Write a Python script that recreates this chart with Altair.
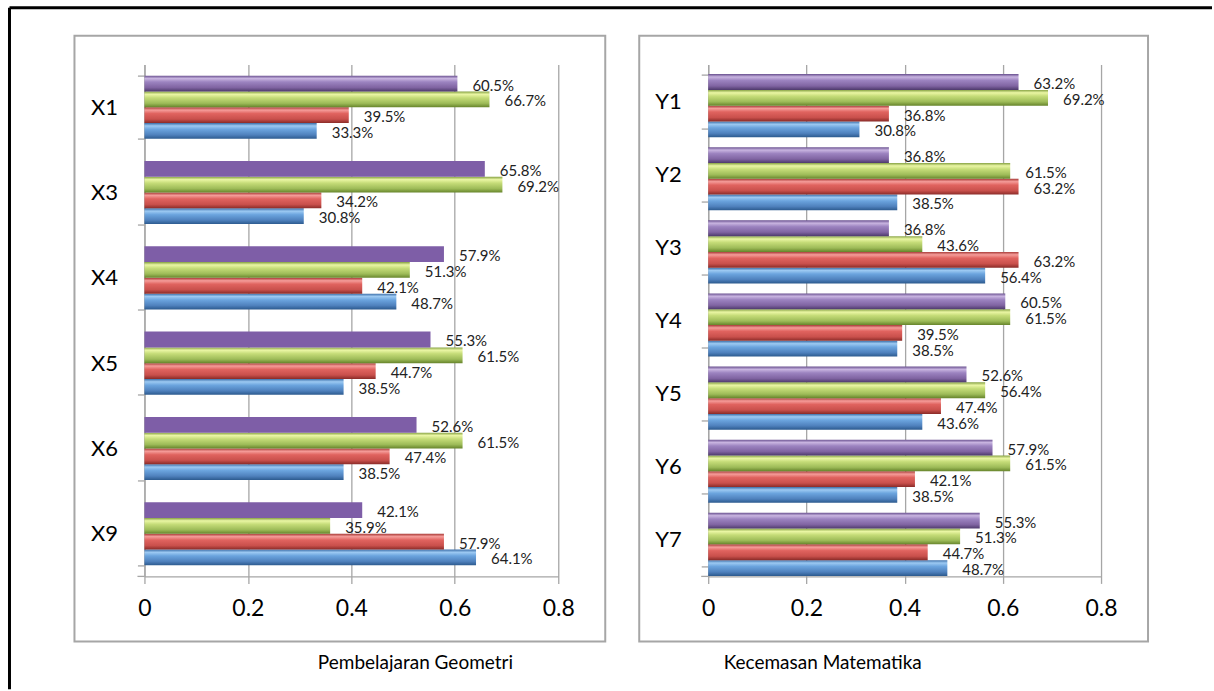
import altair as alt
import pandas as pd

# ---------------- data ----------------
series_names = ["S1", "S2", "S3", "S4"]          # blue, red, green, purple
offset_order = ["S4", "S3", "S2", "S1"]          # top-to-bottom inside a group

left_cats = ["X1", "X3", "X4", "X5", "X6", "X9"]
left_s1 = [0.333, 0.308, 0.487, 0.385, 0.385, 0.641]
left_s2 = [0.395, 0.342, 0.421, 0.447, 0.474, 0.579]
left_s3 = [0.667, 0.692, 0.513, 0.615, 0.615, 0.359]
left_s4 = [0.605, 0.658, 0.579, 0.553, 0.526, 0.421]

right_cats = ["Y1", "Y2", "Y3", "Y4", "Y5", "Y6", "Y7"]
right_s1 = [0.308, 0.385, 0.564, 0.385, 0.436, 0.385, 0.487]
right_s2 = [0.368, 0.632, 0.632, 0.395, 0.474, 0.421, 0.447]
right_s3 = [0.692, 0.615, 0.436, 0.615, 0.564, 0.615, 0.513]
right_s4 = [0.632, 0.368, 0.368, 0.605, 0.526, 0.579, 0.553]

x_ticks = [0, 0.2, 0.4, 0.6, 0.8]
titles = ["Pembelajaran Geometri", "Kecemasan Matematika"]

# ---------------- style ----------------
FONT = "Lato"
GRID = "#A6A6A6"
GRAD_OFFSETS = [0, 0.18, 0.4, 0.75, 1]
GRAD_COLORS = {
    "S1": ["#3C6EA8", "#9CC9F2", "#6BA4DE", "#4F81BD", "#2C5A8E"],
    "S2": ["#A83A37", "#F59C99", "#E0635F", "#C9504C", "#8A2B28"],
    "S3": ["#86A243", "#EAF6A4", "#C5DC78", "#9DBB58", "#66842B"],
    "S4": ["#6A5190", "#C8B4E0", "#9C83C0", "#8064A2", "#4E3A6C"],
}
FLAT_PURPLE = "#7E5EA7"


def grad(name):
    return alt.LinearGradient(
        gradient="linear",
        stops=[alt.GradientStop(offset=o, color=c) for o, c in zip(GRAD_OFFSETS, GRAD_COLORS[name])],
        x1=0, x2=0, y1=0, y2=1,
    )


one = pd.DataFrame({"k": [0]})


def panel(cats, s_lists, width, title, title_x, border, outer, flat_purple):
    rows = []
    for name, vals in zip(series_names, s_lists):
        for c, v in zip(cats, vals):
            rows.append({"cat": c, "series": name, "value": v})
    df = pd.DataFrame(rows)

    y = alt.Y(
        "cat:N", sort=cats,
        scale=alt.Scale(paddingInner=0.26, paddingOuter=0.13),
        axis=alt.Axis(title=None, tickBand="extent", tickSize=7, tickColor=GRID, tickWidth=1.3,
                      domainColor=GRID, domainWidth=1.3, labelFont=FONT, labelFontSize=22,
                      labelColor="black", labelPadding=20, grid=False),
    )
    yo = alt.YOffset("series:N", scale=alt.Scale(domain=offset_order))
    x = alt.X(
        "value:Q",
        scale=alt.Scale(domain=[0, 0.8], nice=False, zero=True),
        axis=alt.Axis(values=x_ticks, format=".1~f", grid=True, gridColor=GRID, gridWidth=1.3,
                      tickSize=7, tickColor=GRID, tickWidth=1.3, domainColor=GRID, domainWidth=1.3,
                      labelFont=FONT, labelFontSize=23, labelColor="black", labelPadding=14,
                      labelFlush=False, labelOverlap=False,
                      title=title, titleX=title_x, titleY=92, titleAlign="left",
                      titleBaseline="alphabetic", titleFont=FONT, titleFontSize=19,
                      titleFontWeight="normal", titleColor="black"),
    )

    layers = []
    if outer:
        layers.append(alt.Chart(one).mark_rule(color="black", strokeWidth=3).encode(
            x=alt.value(outer[0]), x2=alt.value(outer[1]), y=alt.value(outer[2])))
        layers.append(alt.Chart(one).mark_rule(color="black", strokeWidth=3).encode(
            x=alt.value(outer[0]), y=alt.value(outer[2]), y2=alt.value(outer[3])))
    layers.append(alt.Chart(one).mark_rect(fillOpacity=0, stroke=GRID, strokeWidth=2).encode(
        x=alt.value(border[0]), x2=alt.value(border[1]), y=alt.value(border[2]), y2=alt.value(border[3])))

    base = alt.Chart(df)
    for name in series_names:
        if name == "S4" and flat_purple:
            layers.append(base.mark_bar(fill=grad(name)).encode(x=x, y=y, yOffset=yo).transform_filter(
                (alt.datum.series == name) & (alt.datum.cat == cats[0])))
            layers.append(base.mark_bar(fill=FLAT_PURPLE).encode(x=x, y=y, yOffset=yo).transform_filter(
                (alt.datum.series == name) & (alt.datum.cat != cats[0])))
        else:
            layers.append(base.mark_bar(fill=grad(name)).encode(x=x, y=y, yOffset=yo).transform_filter(
                alt.datum.series == name))

    layers.append(base.mark_text(align="left", baseline="middle", dx=15, dy=2, font=FONT,
                                 fontSize=15, color="#222222").encode(
        x=x, y=y, yOffset=yo, text=alt.Text("value:Q", format=".1%")))

    layers.append(alt.Chart(one).mark_rule(color=GRID, strokeWidth=1.3).encode(
        x=alt.value(-7), x2=alt.value(0), y=alt.value(512)))

    return alt.layer(*layers).properties(width=width, height=512)


left = panel(left_cats, [left_s1, left_s2, left_s3, left_s4], 414, titles[0], 173,
             border=(-70, 461, -29, 577), outer=(-135, 1068, -57, 625), flat_purple=True)
right = panel(right_cats, [right_s1, right_s2, right_s3, right_s4], 393, titles[1], 15,
              border=(-69, 440, -29, 577), outer=None, flat_purple=False)

chart = alt.hconcat(left, right, spacing=150, bounds="flush").properties(
    padding={"left": 7.5, "top": 5.5, "right": 0, "bottom": 0},
    background="white",
).configure_view(strokeWidth=0)

chart.save("out.html", embed_options={"renderer": "svg", "actions": False})
